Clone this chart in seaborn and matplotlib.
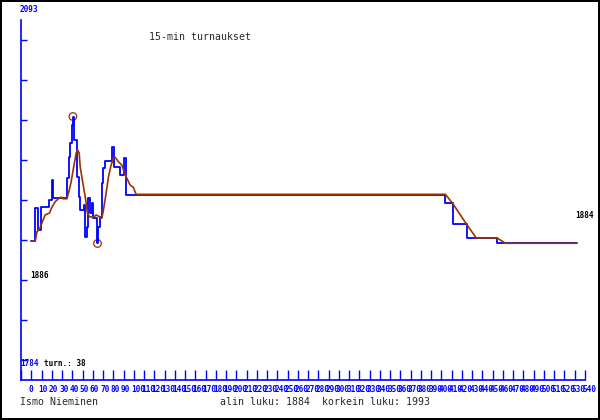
import pandas as pd
import seaborn as sns
import matplotlib.pyplot as plt
from matplotlib.transforms import ScaledTranslation

# kaupat (porrasviiva), luettu kuvasta: x = minuutti, y = hinta
trade_x = [0, 4, 7, 9.4, 17.5, 20.4, 21.4, 35, 36.5, 38, 39.6, 40.6, 41.9, 44.5,
           46.7, 47.7, 51, 52.6, 54.8, 55.8, 57.4, 59.1, 60.1, 64, 64.6, 65.5,
           67.2, 68.8, 70.4, 72, 78.6, 81.1, 86.7, 90.9, 92.2, 92.5, 403.8,
           410.9, 424.5, 454.4, 532]
trade_y = [1886, 1914.5, 1895.6, 1915.3, 1921.3, 1938.5, 1923, 1940, 1958, 1970,
           1986, 1993, 1973, 1941, 1924, 1913, 1917, 1890, 1898, 1923, 1910, 1919,
           1906, 1894, 1884, 1898, 1907, 1936, 1949, 1955, 1967, 1950, 1943, 1957,
           1941, 1926, 1918.5, 1900.5, 1889, 1884, 1884]

# 15 min keskiarvo
avg_x = [0, 3.9, 5.5, 8.1, 10.4, 13.6, 17.8, 20.2, 23.4, 27.6, 29.9, 30.9, 34.8,
         36.3, 38.7, 41.2, 43.8, 45.1, 46.7, 47.7, 50.3, 52.6, 54.8, 56.8, 60.7,
         63.3, 66.5, 68.8, 70.4, 73, 75.3, 77.9, 80.1, 81.8, 85, 88.3, 90.6, 93.2,
         96.4, 99.6, 102.2, 403.8, 410.9, 424.5, 434, 454.4, 462.5, 532]
avg_y = [1886, 1886, 1894.1, 1896.4, 1901.6, 1908.5, 1910.2, 1915.3, 1919.9,
         1923.3, 1923.6, 1922.4, 1922.4, 1927.3, 1935.9, 1948.8, 1961.7, 1964.2,
         1961.9, 1949.9, 1935.9, 1924.2, 1910.2, 1907, 1906.5, 1908.5, 1907,
         1905.6, 1912.7, 1927.3, 1941.3, 1951.4, 1957.1, 1958, 1954.2, 1951.4,
         1945.6, 1940, 1934.2, 1932.2, 1926.2, 1926.2, 1918.5, 1900.5, 1888.7,
         1888.7, 1884.2, 1884.2]

ext_x = [40.6, 64.6]
ext_y = [1993, 1884]

y_bottom, y_top = 1784, 2093
x_ticks = list(range(-10, 550, 10))
x_labels = [''] + [str(v) for v in x_ticks[1:]]

BLUE = '#0000ff'
BROWN = '#993300'

sns.set_style('white')
plt.rcParams['font.family'] = ['DejaVu Sans Mono']

fig = plt.figure(figsize=(6, 4.2), dpi=100)
fig.patch.set_edgecolor('black')
fig.patch.set_linewidth(1.6)
ax = fig.add_axes([21 / 600, 40 / 420, 564 / 600, 360 / 420])

trades = pd.DataFrame({'x': trade_x, 'y': trade_y})
avg = pd.DataFrame({'x': avg_x, 'y': avg_y})

sns.lineplot(data=trades, x='x', y='y', estimator=None, drawstyle='steps-post',
             color=BLUE, linewidth=1.3, ax=ax)
sns.lineplot(data=avg, x='x', y='y', estimator=None, color=BROWN, linewidth=1.2, ax=ax)
sns.scatterplot(x=ext_x, y=ext_y, s=30, facecolor='none', edgecolor=BROWN,
                linewidth=0.9, ax=ax)

px = 309 / 360  # hintaa / pikseli
ax.set_xlim(-10, 540)
ax.set_ylim(y_bottom - 20 * px, y_bottom + 340 * px)
ax.set_xlabel('')
ax.set_ylabel('')

for s in ['top', 'right']:
    ax.spines[s].set_visible(False)
for s in ['left', 'bottom']:
    ax.spines[s].set_color(BLUE)
    ax.spines[s].set_linewidth(1.2)

ax.set_yticks([y_bottom + k * (y_top - y_bottom) / 9 for k in range(9)])
ax.set_yticklabels([])
ax.tick_params(axis='y', direction='in', length=4, width=1, color=BLUE, left=True)
ax.set_xticks(x_ticks)
ax.set_xticklabels(x_labels, fontsize=5.6, fontweight='bold', color=BLUE)
ax.tick_params(axis='x', direction='in', length=7.5, width=1, color=BLUE,
               bottom=True, pad=3.5)
shift = ScaledTranslation(-3 / 100, 0, fig.dpi_scale_trans)
for lab in ax.get_xticklabels():
    lab.set_horizontalalignment('left')
    lab.set_transform(lab.get_transform() + shift)


def fx(x):
    return x / 600


def fy(y):
    return 1 - y / 420


small = dict(fontsize=5.6, fontweight='bold', va='center', ha='left')
fig.text(fx(20), fy(9), str(y_top), color=BLUE, **small)
fig.text(fx(20), fy(363.5), str(y_bottom), color=BLUE, **small)
fig.text(fx(44), fy(363.5), 'turn.: 38', color='black', **small)
fig.text(fx(30), fy(275), '1886', color='black', **small)
fig.text(fx(575), fy(216), '1884', color='black', **small)

fig.text(fx(149), fy(37), '15-min turnaukset', fontsize=7.1, va='center', ha='left')
fig.text(fx(20), fy(402), 'Ismo Nieminen', fontsize=7.1, va='center', ha='left')
fig.text(fx(220), fy(402), 'alin luku: 1884  korkein luku: 1993', fontsize=7.1,
         va='center', ha='left')

fig.savefig('out.png', dpi=100, edgecolor=fig.get_edgecolor())
